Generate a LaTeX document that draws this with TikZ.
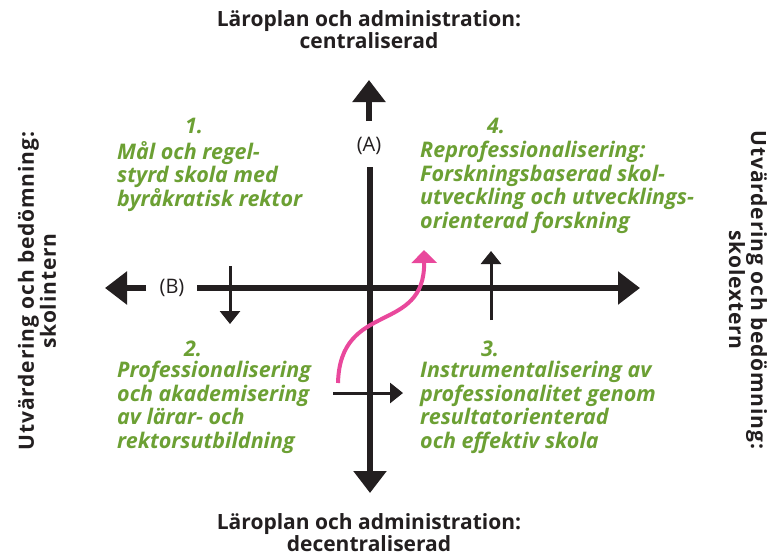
\documentclass[tikz,border=0pt]{standalone}
\usepackage{fontspec}
\setmainfont{Open Sans}
\usetikzlibrary{arrows.meta, positioning}
\definecolor{ink}{RGB}{35, 31, 32}
\definecolor{leaf}{RGB}{108, 160, 52}
\definecolor{rose}{RGB}{233, 72, 156}
\tikzset{
  axis/.style={ink, line width=6.5pt, -{Triangle[length=22pt, width=32pt]}},
  tick/.style={ink, line width=3pt, -{Triangle[length=13pt, width=20pt]}},
  drift/.style={rose, line width=4pt, -{Triangle[length=13pt, width=25pt]}},
  pole/.style={ink, inner sep=0pt, align=center, font=\fontsize{21}{20}\selectfont\bfseries},
  side/.style={pole, font=\fontsize{21}{22}\selectfont\bfseries\addfontfeatures{LetterSpace=4}},
  quad/.style={leaf, inner sep=0pt, align=left, anchor=north west,
               font=\fontsize{21.5}{23.5}\selectfont\bfseries\itshape},
  qnum/.style={leaf, inner sep=0pt, font=\fontsize{21.5}{23.5}\selectfont\bfseries\itshape},
  tag/.style={ink, inner sep=1pt, font=\fontsize{20}{24}\selectfont}
}
\begin{document}
\begin{tikzpicture}[x=1pt, y=-1pt]

  \useasboundingbox (0, 0) rectangle (771, 555);

  % poles
  \node[pole] (top) at (369, 30) {Läroplan och administration:\\centraliserad};
  \node[pole] (bottom) at (369, 532.5) {Läroplan och administration:\\decentraliserad};
  \node[side, rotate=90] (left) at (37, 291) {Utvärdering och bedömning:\\skolintern};
  \node[side, rotate=-90] (right) at (748, 290) {Utvärdering och bedömning:\\skolextern};

  % axes
  \node[tag] (A) at (369, 146) {(A)};
  \node[tag] (B) at (172, 288) {(B)};
  \coordinate (atop) at (369, 80);
  \coordinate (abot) at (370, 493);
  \coordinate (aup) at (369, 121);
  \coordinate (avert) at (370, 167);
  \coordinate (bleft) at (105, 288);
  \coordinate (bright) at (640, 288);
  \coordinate (bstub) at (146, 288);
  \coordinate (bline) at (197, 288);

  \draw[axis] (aup) -- (atop);
  \draw[axis] (avert) -- (abot);
  \draw[axis] (bstub) -- (bleft);
  \draw[axis] (bline) -- (bright);

  % small shifts
  \coordinate (d0) at (230, 266);  \coordinate (d1) at (230, 324);
  \coordinate (u0) at (491, 320);  \coordinate (u1) at (491, 251);
  \coordinate (r0) at (333, 393);  \coordinate (r1) at (403, 393);
  \draw[tick] (d0) -- (d1);
  \draw[tick] (u0) -- (u1);
  \draw[tick] (r0) -- (r1);

  \coordinate (s0) at (338, 383);
  \coordinate (s1) at (424, 250);
  \draw[drift] (s0) .. controls (340, 300) and (425, 335) .. (s1);

  % quadrants
  \foreach \x/\y/\n in {194/126/1, 193/348.5/2, 490/348.5/3, 496/126/4}
    \node[qnum] (n\n) at (\x, \y) {\n.};

  \node[quad] (q1) at (117, 141) {Mål och regel-\\styrd skola med\\byråkratisk rektor};
  \node[quad] (q2) at (117, 361) {Professionalisering\\och akademisering\\av lärar- och\\rektorsutbildning};
  \node[quad] (q3) at (420, 361) {Instrumentalisering av\\professionalitet genom\\resultatorienterad\\och effektiv skola};
  \node[quad] (q4) at (420, 141) {Reprofessionalisering:\\Forskningsbaserad skol-\\utveckling och utvecklings-\\orienterad forskning};

\end{tikzpicture}
\end{document}
